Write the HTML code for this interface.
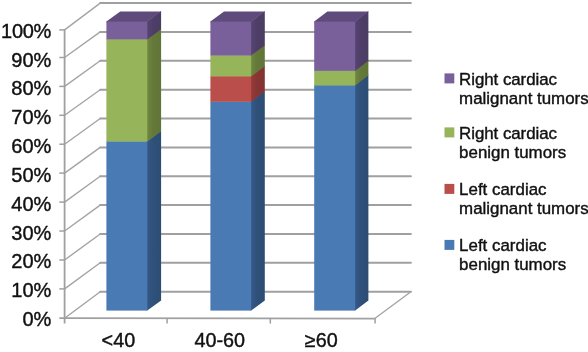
<!DOCTYPE html>
<html><head><meta charset="utf-8"><title>Chart</title>
<style>html,body{margin:0;padding:0;background:#fff;overflow:hidden}svg{display:block}</style>
</head><body>
<svg width="588" height="352" viewBox="0 0 588 352">
<rect width="588" height="352" fill="#fff"/>
<g fill="none" stroke="#a4a4a4" stroke-width="1.4" stroke-linecap="round">
<line x1="64.6" y1="318.3" x2="100.2" y2="291.7"/>
<line x1="64.6" y1="288.9" x2="100.2" y2="262.8"/>
<line x1="64.6" y1="260.0" x2="100.2" y2="234.0"/>
<line x1="64.6" y1="231.0" x2="100.2" y2="205.1"/>
<line x1="64.6" y1="202.1" x2="100.2" y2="176.2"/>
<line x1="64.6" y1="173.1" x2="100.2" y2="147.4"/>
<line x1="64.6" y1="144.2" x2="100.2" y2="118.5"/>
<line x1="64.6" y1="115.3" x2="100.2" y2="89.7"/>
<line x1="64.6" y1="86.4" x2="100.2" y2="60.8"/>
<line x1="64.6" y1="57.5" x2="100.2" y2="31.9"/>
<line x1="64.6" y1="29.9" x2="100.2" y2="3.1"/>
<line x1="375.1" y1="318.3" x2="410.9" y2="291.7"/>
</g>
<g fill="none" stroke="#a0a0a0" stroke-width="2.0" stroke-linecap="round">
<line x1="100.2" y1="291.7" x2="410.9" y2="291.7"/>
<line x1="100.2" y1="262.8" x2="410.9" y2="262.8"/>
<line x1="100.2" y1="234.0" x2="410.9" y2="234.0"/>
<line x1="100.2" y1="205.1" x2="410.9" y2="205.1"/>
<line x1="100.2" y1="176.2" x2="410.9" y2="176.2"/>
<line x1="100.2" y1="147.4" x2="410.9" y2="147.4"/>
<line x1="100.2" y1="118.5" x2="410.9" y2="118.5"/>
<line x1="100.2" y1="89.7" x2="410.9" y2="89.7"/>
<line x1="100.2" y1="60.8" x2="410.9" y2="60.8"/>
<line x1="100.2" y1="31.9" x2="410.9" y2="31.9"/>
<line x1="100.2" y1="3.1" x2="410.9" y2="3.1"/>
</g>
<g fill="none" stroke="#a0a0a0" stroke-width="1.8">
<line x1="64.6" y1="29.299999999999997" x2="64.6" y2="323.5"/>
<line x1="59.3" y1="318.2" x2="375.1" y2="318.6"/>
</g>
<g fill="none" stroke="#a0a0a0" stroke-width="1.5">
<line x1="59.3" y1="288.9" x2="64.6" y2="288.9"/>
<line x1="59.3" y1="260.0" x2="64.6" y2="260.0"/>
<line x1="59.3" y1="231.0" x2="64.6" y2="231.0"/>
<line x1="59.3" y1="202.1" x2="64.6" y2="202.1"/>
<line x1="59.3" y1="173.1" x2="64.6" y2="173.1"/>
<line x1="59.3" y1="144.2" x2="64.6" y2="144.2"/>
<line x1="59.3" y1="115.3" x2="64.6" y2="115.3"/>
<line x1="59.3" y1="86.4" x2="64.6" y2="86.4"/>
<line x1="59.3" y1="57.5" x2="64.6" y2="57.5"/>
<line x1="59.3" y1="29.9" x2="64.6" y2="29.9"/>
<line x1="167.1" y1="318.3" x2="167.1" y2="323.6"/>
<line x1="270.3" y1="318.3" x2="270.3" y2="323.6"/>
<line x1="375.1" y1="318.3" x2="375.1" y2="323.6"/>
</g>
<defs>
<linearGradient id="sb" x1="0" y1="0" x2="1" y2="0"><stop offset="0" stop-color="#355a88"/><stop offset="0.45" stop-color="#2f5079"/><stop offset="1" stop-color="#2d4d74"/></linearGradient>
<linearGradient id="sr" x1="0" y1="0" x2="1" y2="0"><stop offset="0" stop-color="#973b3a"/><stop offset="0.45" stop-color="#873534"/><stop offset="1" stop-color="#823332"/></linearGradient>
<linearGradient id="sg" x1="0" y1="0" x2="1" y2="0"><stop offset="0" stop-color="#708840"/><stop offset="0.45" stop-color="#647939"/><stop offset="1" stop-color="#607437"/></linearGradient>
<linearGradient id="sp" x1="0" y1="0" x2="1" y2="0"><stop offset="0" stop-color="#574573"/><stop offset="0.45" stop-color="#4e3e67"/><stop offset="1" stop-color="#4b3c63"/></linearGradient>
</defs>
<polygon points="146.5,140.89999999999998 147.3,140.89999999999998 161.1,130.7 161.1,300.4 147.3,310.6 146.5,310.6" fill="url(#sb)"/>
<polygon points="146.5,38.800000000000004 147.3,38.800000000000004 161.1,28.6 161.1,131.3 147.3,141.5 146.5,141.5" fill="url(#sg)"/>
<polygon points="146.5,21.3 147.3,21.3 161.1,11.1 161.1,29.2 147.3,39.4 146.5,39.4" fill="url(#sp)"/>
<polygon points="106.4,22.400000000000002 106.4,21.6 120.2,11.4 161.1,11.4 147.3,21.6 147.3,22.400000000000002" fill="#5f4a7c"/>
<rect x="106.4" y="141.2" width="40.9" height="169.4" fill="#4a7ab3"/>
<rect x="106.4" y="39.1" width="40.9" height="102.4" fill="#96b459"/>
<rect x="106.4" y="21.6" width="40.9" height="17.8" fill="#79609a"/>
<polygon points="250.39999999999998,101.2 251.2,101.2 264.8,91.0 264.8,300.4 251.2,310.6 250.39999999999998,310.6" fill="url(#sb)"/>
<polygon points="250.39999999999998,75.8 251.2,75.8 264.8,65.6 264.8,91.6 251.2,101.8 250.39999999999998,101.8" fill="url(#sr)"/>
<polygon points="250.39999999999998,55.0 251.2,55.0 264.8,44.8 264.8,66.2 251.2,76.4 250.39999999999998,76.4" fill="url(#sg)"/>
<polygon points="250.39999999999998,21.3 251.2,21.3 264.8,11.1 264.8,45.4 251.2,55.6 250.39999999999998,55.6" fill="url(#sp)"/>
<polygon points="210.4,22.400000000000002 210.4,21.6 224.0,11.4 264.8,11.4 251.2,21.6 251.2,22.400000000000002" fill="#5f4a7c"/>
<rect x="210.4" y="101.5" width="40.8" height="209.1" fill="#4a7ab3"/>
<rect x="210.4" y="76.1" width="40.8" height="25.7" fill="#ba4e4a"/>
<rect x="210.4" y="55.3" width="40.8" height="21.1" fill="#96b459"/>
<rect x="210.4" y="21.6" width="40.8" height="34.0" fill="#79609a"/>
<polygon points="354.4,84.8 355.2,84.8 368.4,74.6 368.4,300.4 355.2,310.6 354.4,310.6" fill="url(#sb)"/>
<polygon points="354.4,70.3 355.2,70.3 368.4,60.1 368.4,75.2 355.2,85.4 354.4,85.4" fill="url(#sg)"/>
<polygon points="354.4,21.3 355.2,21.3 368.4,11.1 368.4,60.7 355.2,70.9 354.4,70.9" fill="url(#sp)"/>
<polygon points="314.2,22.400000000000002 314.2,21.6 327.4,11.4 368.4,11.4 355.2,21.6 355.2,22.400000000000002" fill="#5f4a7c"/>
<rect x="314.2" y="85.1" width="41.0" height="225.5" fill="#4a7ab3"/>
<rect x="314.2" y="70.6" width="41.0" height="14.8" fill="#96b459"/>
<rect x="314.2" y="21.6" width="41.0" height="49.3" fill="#79609a"/>
<g font-family="'Liberation Sans', Arial, Helvetica, sans-serif" fill="#111" stroke="#111" stroke-width="0.4">
<g font-size="20" text-anchor="end">
<text x="51.3" y="326.0">0%</text>
<text x="51.3" y="297.2">10%</text>
<text x="51.3" y="268.3">20%</text>
<text x="51.3" y="239.5">30%</text>
<text x="51.3" y="210.7">40%</text>
<text x="51.3" y="181.9">50%</text>
<text x="51.3" y="153.0">60%</text>
<text x="51.3" y="124.2">70%</text>
<text x="51.3" y="95.4">80%</text>
<text x="51.3" y="66.5">90%</text>
<text x="51.3" y="37.7" textLength="50.2">100%</text>
</g>
<g font-size="19.8" text-anchor="middle">
<text x="118.4" y="347.4">&lt;40</text>
<text x="219.8" y="347.4">40-60</text>
<text x="321.3" y="347.4">≥60</text>
</g>
<g font-size="16.9">
<rect x="444.5" y="73.4" width="9.8" height="10" fill="#79609a" stroke="none"/>
<text x="459.1" y="84.5" textLength="97.9">Right cardiac</text>
<text x="459.1" y="103.9">malignant tumors</text>
<rect x="444.5" y="127.4" width="9.8" height="10" fill="#96b459" stroke="none"/>
<text x="459.1" y="138.5" textLength="97.9">Right cardiac</text>
<text x="459.1" y="157.9">benign tumors</text>
<rect x="444.5" y="183.9" width="9.8" height="10" fill="#ba4e4a" stroke="none"/>
<text x="459.1" y="195.0" textLength="87.4">Left cardiac</text>
<text x="459.1" y="214.4">malignant tumors</text>
<rect x="444.5" y="239.9" width="9.8" height="10" fill="#4a7ab3" stroke="none"/>
<text x="459.1" y="251.0" textLength="87.4">Left cardiac</text>
<text x="459.1" y="270.4">benign tumors</text>
</g></g>
</svg>
</body></html>
